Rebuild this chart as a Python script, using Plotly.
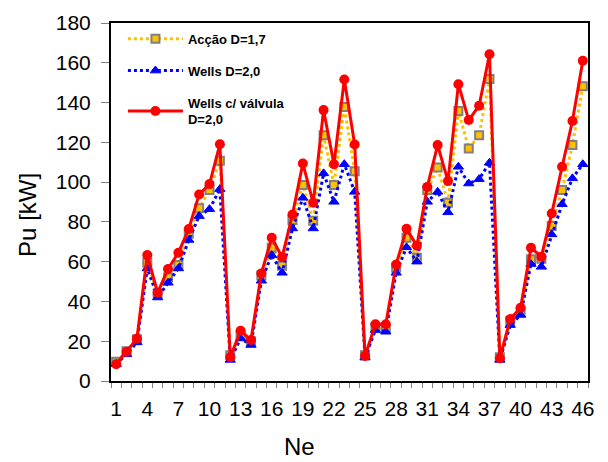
import plotly.graph_objects as go

ne = list(range(1, 47))
accao = [9.7, 15, 21, 59.5, 44, 52, 58.3, 74, 86.8, 96, 110.7,
         13, 23, 20, 53, 67, 58, 81, 98.5, 80.6, 123.6, 98.5, 137.8, 105.5,
         13, 27, 26, 57, 72, 62, 96, 107.3, 89.6, 135.8, 116.9, 123.6, 151.8,
         12, 30, 35, 61.2, 61.5, 77.9, 96, 118.6, 148.2]
wells = [8.5, 13.4, 19.4, 56.6, 42, 49.4, 56.6, 70.9, 82.9, 86.4, 96.5,
         10.6, 21.4, 18.1, 50.4, 63.3, 54.4, 76.7, 92.1, 76.7, 104.4, 90.1, 109, 95.1,
         11.8, 25.6, 24.8, 54.4, 67.2, 60, 90.1, 95.1, 84.8, 107.7, 99.3, 101.5, 109.7,
         10.6, 28.1, 33.2, 58.8, 57.4, 73.7, 88.9, 101.9, 109]
valvula = [8.4, 14.7, 21.3, 63.3, 44.4, 56.3, 64.5, 76.4, 93.8, 99, 119,
           11.9, 25.3, 20.6, 54.1, 72, 62.3, 83.7, 109.4, 89.6, 136.2, 109, 151.6, 118.9,
           12.6, 28.5, 28.5, 58.6, 76.5, 68, 97.6, 118.6, 100.5, 149.2, 131.2, 138.4, 164.3,
           11.4, 31.2, 36.8, 67, 62.5, 84.2, 107.7, 130.7, 161]
tick_labels = [str(v) for v in range(1, 47, 3)]

fig = go.Figure()
fig.add_trace(go.Scatter(
    x=ne, y=accao, name="Acção D=1,7", mode="lines+markers",
    line=dict(color="#FFC000", width=3, dash="dot"),
    marker=dict(symbol="square", size=8, color="#FFC000", line=dict(color="#808080", width=2)),
    legendgroup="a"))
fig.add_trace(go.Scatter(
    x=ne, y=wells, name="Wells D=2,0", mode="lines+markers",
    line=dict(color="#0000FF", width=3, dash="dot"),
    marker=dict(symbol="triangle-up", size=9, color="#0000FF", line=dict(color="#0000FF", width=1)),
    legendgroup="b"))
fig.add_trace(go.Scatter(
    x=ne, y=valvula, name="Wells c/ válvula<br>D=2,0", mode="lines+markers",
    line=dict(color="#FF0000", width=3),
    marker=dict(symbol="circle", size=10, color="#FF0000"),
    legendgroup="c"))

fig.update_layout(
    width=608, height=462,
    margin=dict(l=111, r=20, t=23, b=81),
    paper_bgcolor="white", plot_bgcolor="white",
    font=dict(family="Liberation Sans, Arial, sans-serif", color="black"),
    showlegend=True,
    legend=dict(x=0.025, y=0.998, xanchor="left", yanchor="top",
                bgcolor="rgba(0,0,0,0)", borderwidth=0,
                font=dict(size=13, family="Liberation Sans, Arial, sans-serif", weight="bold"),
                tracegroupgap=12, traceorder="grouped", itemwidth=55),
    xaxis=dict(
        range=[0.5, 46.5], tickmode="array", tickvals=list(range(1, 47, 3)),
        ticktext=tick_labels, ticks="", showgrid=False, zeroline=False,
        showline=True, linecolor="black", linewidth=2, mirror=True,
        tickfont=dict(size=21), ticklabelstandoff=8,
        minor=dict(tickmode="linear", tick0=0.5, dtick=1, ticks="outside",
                   ticklen=5, tickcolor="#808080", tickwidth=1, showgrid=False)),
    yaxis=dict(
        range=[0, 180], tickmode="linear", tick0=0, dtick=20,
        ticks="outside", ticklen=8, tickcolor="#808080", tickwidth=1,
        showgrid=False, zeroline=False,
        showline=True, linecolor="black", linewidth=2, mirror=True,
        tickfont=dict(size=21), ticklabelstandoff=6),
    annotations=[
        dict(text="Ne", xref="paper", yref="paper", x=0.396, y=-0.184,
             xanchor="center", yanchor="middle", showarrow=False,
             font=dict(size=24)),
        dict(text="Pu [kW]", xref="paper", yref="paper", x=-0.174, y=0.464,
             xanchor="center", yanchor="middle", showarrow=False, textangle=-90,
             font=dict(size=24)),
    ],
)

fig.write_html("out.html")
